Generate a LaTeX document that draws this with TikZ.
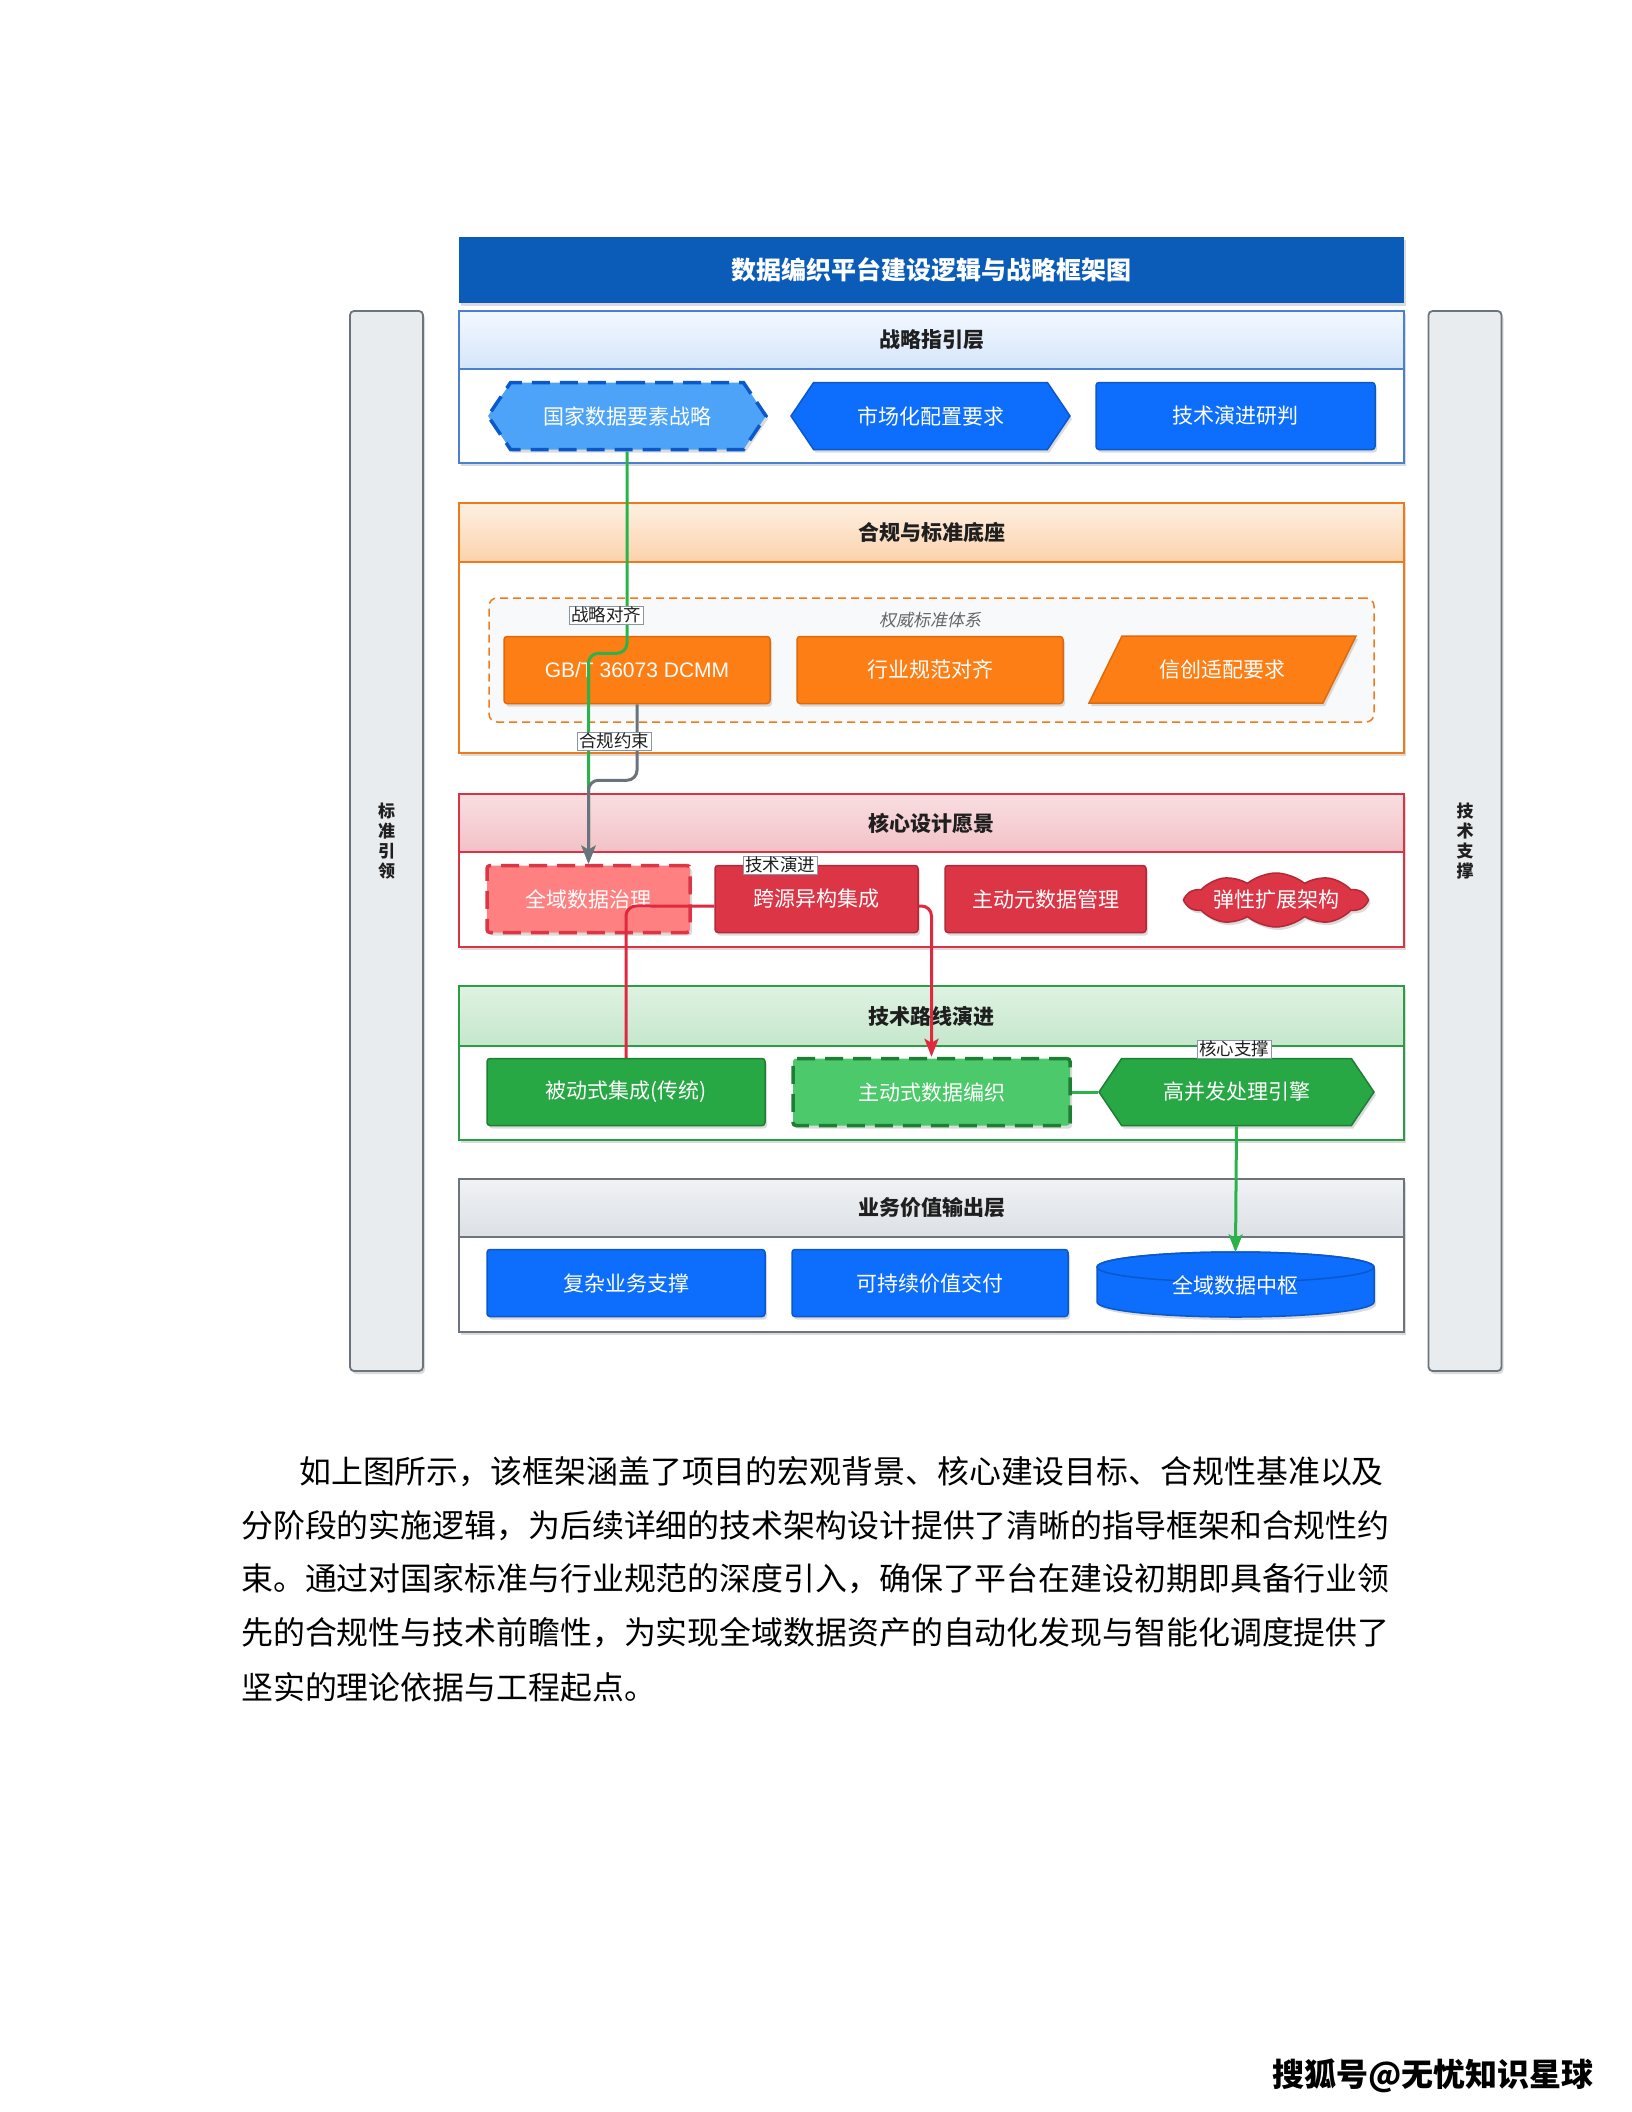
\documentclass[tikz,border=0pt]{standalone}
\usepackage{fontspec}
\newfontfamily\cjk{Noto Sans CJK SC}
\newfontfamily\cjkit[FakeSlant=0.2]{Noto Sans CJK SC}
\newfontfamily\latin{Liberation Sans}
\usetikzlibrary{shapes.symbols,shapes.geometric,shadows,arrows.meta}

\definecolor{titleblue}{HTML}{0B5CB8}
\definecolor{l1border}{HTML}{4A80CF}
\definecolor{l1top}{HTML}{F3F8FF}
\definecolor{l1bot}{HTML}{D5E5FA}
\definecolor{bluebox}{HTML}{0D6EFD}
\definecolor{blueedge}{HTML}{0A58CA}
\definecolor{lightblue}{HTML}{4DA3F7}
\definecolor{l2border}{HTML}{F07A1A}
\definecolor{l2top}{HTML}{FEF0E2}
\definecolor{l2bot}{HTML}{FBD2AC}
\definecolor{orangebox}{HTML}{FD7E14}
\definecolor{orangeedge}{HTML}{E06A0A}
\definecolor{l3border}{HTML}{D93446}
\definecolor{l3top}{HTML}{F9DEE1}
\definecolor{l3bot}{HTML}{F2C1C7}
\definecolor{redbox}{HTML}{DC3545}
\definecolor{rededge}{HTML}{B02A37}
\definecolor{lightred}{HTML}{FF8080}
\definecolor{l4border}{HTML}{2E9B45}
\definecolor{l4top}{HTML}{DFF2E2}
\definecolor{l4bot}{HTML}{C5E7CC}
\definecolor{greenbox}{HTML}{28A745}
\definecolor{greenedge}{HTML}{1E7E34}
\definecolor{lightgreen}{HTML}{4CC96A}
\definecolor{l5border}{HTML}{6C757D}
\definecolor{l5top}{HTML}{F0F2F4}
\definecolor{l5bot}{HTML}{DCE0E5}
\definecolor{sidefill}{HTML}{E9ECEF}
\definecolor{sideedge}{HTML}{6C757D}
\definecolor{linkgreen}{HTML}{2BB34B}
\definecolor{linkgray}{HTML}{69737D}
\definecolor{linkred}{HTML}{E0283F}
\definecolor{labeledge}{HTML}{8C96A3}
\definecolor{headtext}{HTML}{1F1F1F}
\definecolor{stdfill}{HTML}{F8F9FA}
\definecolor{stdtext}{HTML}{666666}

\tikzset{
  boxshadow/.style={drop shadow={shadow xshift=2pt,shadow yshift=-3pt,opacity=0.28}},
  boxfont/.style={font=\cjk\fontsize{21}{25}\selectfont, text=white},
  cardbox/.style={boxfont, boxshadow, draw, line width=1.5pt, rounded corners=3pt, minimum height=67pt, inner sep=0pt},
  dashedborder/.style={line width=3.5pt, dash pattern=on 18pt off 10pt},
  hexcard/.style={boxfont, boxshadow, draw, signal, signal to=west and east, signal pointer angle=112, line width=1.5pt, minimum height=67pt, inner sep=0pt},
  layerbox/.style={draw, fill=white, line width=1.8pt, minimum width=945pt, inner sep=0pt, boxshadow},
  layerhead/.style={draw, line width=1.8pt, minimum width=945pt, inner sep=0pt, font=\cjk\bfseries\fontsize{21}{25}\selectfont, text=headtext},
  sidebar/.style={draw=sideedge, fill=sidefill, line width=1.8pt, rounded corners=4pt, minimum width=73pt, minimum height=1060pt, boxshadow, font=\cjk\bfseries\fontsize{17}{20}\selectfont, text=headtext, align=center},
  tagbox/.style={draw=labeledge, fill=white, line width=0.8pt, inner xsep=2pt, inner ysep=1pt, font=\cjk\fontsize{17.5}{20}\selectfont, text=headtext},
  connline/.style={line width=3pt, rounded corners=10pt},
  connarrow/.style={-{Stealth[length=18pt,width=14pt,inset=4pt]}},
  parafont/.style={font=\cjk\fontsize{31.9}{36}\selectfont, text=black, inner sep=0pt, anchor=west},
}

\begin{document}
\begin{tikzpicture}[x=1pt,y=-1pt]
\useasboundingbox (0,0) rectangle (1632,2112);
\fill[white] (0,0) rectangle (1632,2112);

% side bars
\node[sidebar] (sideL) at (386.5,841) {标\\准\\引\\领};
\node[sidebar] (sideR) at (1465,841) {技\\术\\支\\撑};

% title
\node[fill=titleblue, minimum width=945pt, minimum height=66pt, inner sep=0pt, boxshadow,
      font=\cjk\bfseries\fontsize{25}{30}\selectfont, text=white] (title) at (931.5,270) {数据编织平台建设逻辑与战略框架图};

% layer 1
\node[layerbox, draw=l1border, minimum height=152pt] (L1) at (931.5,387) {};
\node[layerhead, draw=l1border, top color=l1top, bottom color=l1bot, minimum height=58pt] (L1h) at (931.5,340) {战略指引层};
% layer 2
\node[layerbox, draw=l2border, minimum height=250pt] (L2) at (931.5,628) {};
\node[layerhead, draw=l2border, top color=l2top, bottom color=l2bot, minimum height=59pt] (L2h) at (931.5,532.5) {合规与标准底座};
% layer 3
\node[layerbox, draw=l3border, minimum height=153pt] (L3) at (931.5,870.5) {};
\node[layerhead, draw=l3border, top color=l3top, bottom color=l3bot, minimum height=58pt] (L3h) at (931.5,823) {核心设计愿景};
% layer 4
\node[layerbox, draw=l4border, minimum height=154pt] (L4) at (931.5,1063) {};
\node[layerhead, draw=l4border, top color=l4top, bottom color=l4bot, minimum height=60pt] (L4h) at (931.5,1016) {技术路线演进};
% layer 5
\node[layerbox, draw=l5border, minimum height=153pt] (L5) at (931.5,1255.5) {};
\node[layerhead, draw=l5border, top color=l5top, bottom color=l5bot, minimum height=58pt] (L5h) at (931.5,1208) {业务价值输出层};

% standards group
\node[draw=l2border, dash pattern=on 8pt off 5pt, line width=1.5pt, rounded corners=8pt, fill=stdfill,
      minimum width=885pt, minimum height=124pt] (std) at (931.5,660) {};
\node[font=\cjkit\fontsize{17}{20}\selectfont, text=stdtext] (stdlbl) at (930,620) {权威标准体系};

% row 1
\node[hexcard, fill=lightblue, draw=blueedge, dashedborder, minimum width=278pt] (gjs) at (627,416) {国家数据要素战略};
\node[hexcard, fill=bluebox, draw=blueedge, minimum width=279pt] (scp) at (930.5,416) {市场化配置要求};
\node[cardbox, fill=bluebox, draw=blueedge, minimum width=279pt] (jsy) at (1235.5,416) {技术演进研判};

% row 2
\node[cardbox, fill=orangebox, draw=orangeedge, minimum width=266pt, font=\latin\fontsize{21}{25}\selectfont] (gbt) at (637,670) {GB/T 36073 DCMM};
\node[cardbox, fill=orangebox, draw=orangeedge, minimum width=266pt] (hyg) at (930,670) {行业规范对齐};
\path[fill=orangebox, draw=orangeedge, line width=1.5pt, boxshadow] (1089,703) -- (1122,636) -- (1356,636) -- (1323,703) -- cycle;
\node[boxfont] (xcs) at (1222.5,670) {信创适配要求};

% row 3
\node[cardbox, fill=lightred, draw=redbox, dashedborder, minimum width=203pt] (qys) at (588.5,899) {全域数据治理};
\node[cardbox, fill=redbox, draw=rededge, minimum width=203pt] (kyy) at (816.5,899) {跨源异构集成};
\node[cardbox, fill=redbox, draw=rededge, minimum width=201pt] (zdy) at (1045.5,899) {主动元数据管理};
\node[cloud, cloud puffs=10, cloud puff arc=80, cloud ignores aspect, fill=redbox, draw=rededge, line width=1.5pt,
      minimum width=180pt, minimum height=54pt, inner sep=0pt, boxfont, boxshadow] (txk) at (1276,900) {弹性扩展架构};

% row 4
\node[cardbox, fill=greenbox, draw=greenedge, minimum width=278pt] (bdj) at (626,1092) {被动式集成(传统)};
\node[cardbox, fill=lightgreen, draw=greenedge, dashedborder, minimum width=277pt] (zdb) at (931.5,1092) {主动式数据编织};
\node[hexcard, fill=greenbox, draw=greenedge, minimum width=275pt] (gbf) at (1236.5,1092) {高并发处理引擎};

% row 5
\node[cardbox, fill=bluebox, draw=blueedge, minimum width=278pt] (fzy) at (626,1283) {复杂业务支撑};
\node[cardbox, fill=bluebox, draw=blueedge, minimum width=276pt] (kcx) at (930,1283) {可持续价值交付};
\path[fill=bluebox, draw=blueedge, line width=1.5pt, boxshadow]
  (1097,1267) -- (1097,1302) arc[start angle=180,end angle=360,x radius=138.5pt,y radius=15pt]
  -- (1374,1267) arc[start angle=0,end angle=180,x radius=138.5pt,y radius=15pt] -- cycle;
\draw[blueedge, line width=1.5pt] (1235.5,1267) ellipse [x radius=138.5pt, y radius=15pt];
\node[boxfont, minimum width=277pt, minimum height=65pt, inner sep=0pt] (hub) at (1235.5,1285) {全域数据中枢};

% connectors
\draw[connline, linkgreen, connarrow] (gjs.south) -- ++(0,202) -| (qys.north);
\draw[connline, linkgray, connarrow] (gbt.south) -- ++(0,76) -| (qys.north);
\draw[connline, linkred] ([yshift=-7pt]kyy.west) -| (bdj.north);
\draw[connline, linkred, connarrow] ([yshift=-7pt]kyy.east) -| (zdb.north);
\draw[connline, linkgreen] (zdb.east) -- (gbf.west);
\draw[connline, linkgreen, connarrow] (gbf.south) -- (hub.north);

% connector labels
\node[tagbox] (t1) at (606,615) {战略对齐};
\node[tagbox] (t2) at (614,741) {合规约束};
\node[tagbox] (t3) at (780,865) {技术演进};
\node[tagbox] (t4) at (1234,1049) {核心支撑};

% paragraph
\node[parafont] (p1) at (299,1472) {如上图所示，该框架涵盖了项目的宏观背景、核心建设目标、合规性基准以及};
\node[parafont] (p2) at (241,1526) {分阶段的实施逻辑，为后续详细的技术架构设计提供了清晰的指导框架和合规性约};
\node[parafont] (p3) at (241,1579) {束。通过对国家标准与行业规范的深度引入，确保了平台在建设初期即具备行业领};
\node[parafont] (p4) at (241,1633) {先的合规性与技术前瞻性，为实现全域数据资产的自动化发现与智能化调度提供了};
\node[parafont] (p5) at (241,1687) {坚实的理论依据与工程起点。};

% footer
\node[font=\cjk\bfseries\fontsize{32}{36}\selectfont, text=black] (foot) at (1433,2076) {搜狐号@无忧知识星球};
\end{tikzpicture}
\end{document}
